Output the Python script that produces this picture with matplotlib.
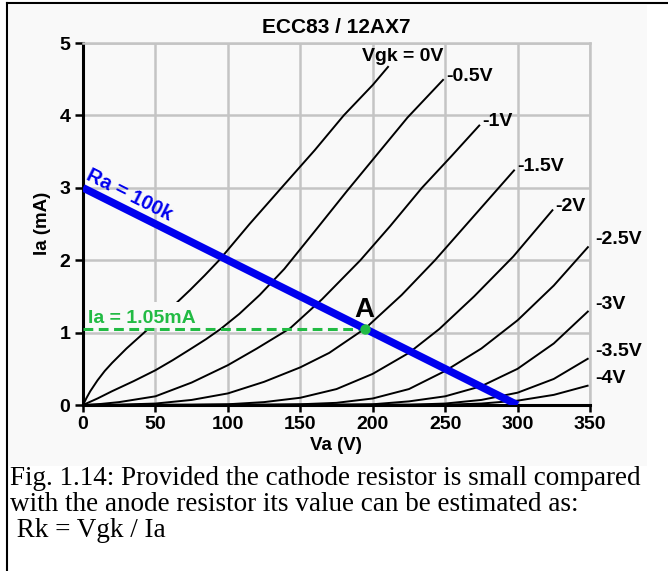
import matplotlib
matplotlib.use('Agg')
import numpy as np
import matplotlib.pyplot as plt
from matplotlib.lines import Line2D
from matplotlib.patches import Rectangle

plt.rcParams['font.family'] = ['Liberation Sans', 'DejaVu Sans']

# ECC83 anode characteristics (Va in V, Ia in mA)
va_0 = [0, 2.5, 5, 10, 15, 20, 30, 40, 45, 55, 64, 74, 84, 94, 115, 137, 160, 180, 200, 211]
ia_0 = [0, 0.10, 0.19, 0.34, 0.47, 0.58, 0.78, 0.96, 1.05, 1.23, 1.40, 1.59, 1.79, 2.0, 2.5, 3.0, 3.52, 4.0, 4.42, 4.68]
va_05 = [0, 10, 20, 35, 50, 62, 74, 85, 95, 108, 122, 139, 160, 182, 203, 224, 249]
ia_05 = [0, 0.09, 0.19, 0.33, 0.48, 0.62, 0.77, 0.91, 1.05, 1.26, 1.52, 1.88, 2.40, 2.95, 3.46, 3.97, 4.50]
va_1 = [0, 12.5, 25, 50, 75, 100, 120, 143, 165, 191.5, 212, 234, 254, 274]
ia_1 = [0, 0.015, 0.04, 0.12, 0.31, 0.55, 0.78, 1.06, 1.46, 2.0, 2.47, 3.0, 3.43, 3.87]
va_15 = [0, 25, 50, 75, 100, 125, 150, 170, 195, 220, 243, 265, 287, 298]
ia_15 = [0, 0.005, 0.02, 0.07, 0.16, 0.32, 0.52, 0.72, 1.06, 1.52, 2.0, 2.5, 3.0, 3.25]
va_2 = [0, 75, 100, 125, 150, 175, 200, 225, 246, 270, 297, 324.5]
ia_2 = [0, 0.003, 0.01, 0.04, 0.10, 0.22, 0.43, 0.72, 1.05, 1.5, 2.05, 2.70]
va_25 = [0, 125, 150, 175, 200, 225, 250, 275, 300, 325, 349]
ia_25 = [0, 0.003, 0.01, 0.03, 0.09, 0.22, 0.47, 0.78, 1.17, 1.65, 2.19]
va_3 = [0, 175, 200, 225, 250, 275, 300, 325, 349]
ia_3 = [0, 0.003, 0.01, 0.05, 0.12, 0.26, 0.50, 0.85, 1.30]
va_35 = [0, 225, 250, 275, 300, 325, 349]
ia_35 = [0, 0.004, 0.02, 0.07, 0.17, 0.36, 0.645]
va_4 = [0, 250, 275, 300, 325, 349]
ia_4 = [0, 0.004, 0.02, 0.06, 0.14, 0.27]

grid_labels = ['Vgk = 0V', '-0.5V', '-1V', '-1.5V', '-2V', '-2.5V', '-3V', '-3.5V', '-4V']

# load line Ra = 100k from a 300V supply, and operating point A
va_load = [0, 300]
ia_load = [3, 0]
va_A = 195
ia_A = 1.05

xticks = [0, 50, 100, 150, 200, 250, 300, 350]
yticks = [0, 1, 2, 3, 4, 5]

curves = [(va_0, ia_0), (va_05, ia_05), (va_1, ia_1), (va_15, ia_15), (va_2, ia_2),
          (va_25, ia_25), (va_3, ia_3), (va_35, ia_35), (va_4, ia_4)]

W, H = 668, 571
bg = '#f9f9f9'
gridc = '#c4c4c4'
green = '#22bb44'
blue = '#0000ee'

fig = plt.figure(figsize=(W / 100, H / 100), dpi=100)
fig.patch.set_facecolor('white')
# light panel behind the chart and the frame around it
fig.add_artist(Rectangle((9 / W, 1 - 466 / H), 638 / W, 461 / H, transform=fig.transFigure,
                         facecolor=bg, edgecolor='none', zorder=0))
fig.add_artist(Line2D([7 / W, 7 / W], [0, 1 - 3 / H], color='black', lw=1.5, transform=fig.transFigure))
fig.add_artist(Line2D([7 / W, 1], [1 - 3 / H, 1 - 3 / H], color='black', lw=1.5, transform=fig.transFigure))

ax = fig.add_axes([83 / W, 1 - 405 / H, 507 / W, 362 / H])
ax.set_facecolor(bg)
ax.set_xlim(0, 350)
ax.set_ylim(0, 5)
ax.set_axisbelow(True)
ax.grid(True, color=gridc, lw=1.8)
ax.set_xticks(xticks)
ax.set_yticks(yticks)
for lab in ax.get_xticklabels() + ax.get_yticklabels():
    lab.set_fontweight('bold')
ax.tick_params(axis='x', direction='out', length=5, width=1.8, labelsize=14, pad=3)
ax.tick_params(axis='y', direction='out', length=6, width=1.8, labelsize=14, pad=3)
for s in ['top', 'right']:
    ax.spines[s].set_color(gridc)
    ax.spines[s].set_linewidth(1.8)
for s in ['left', 'bottom']:
    ax.spines[s].set_linewidth(2.2)

for va, ia in curves:
    ax.plot(va, ia, color='black', lw=1.4, zorder=2, clip_on=False, solid_capstyle='butt')

# curve labels
lab_fs = 14
for k, (va, ia) in enumerate(curves):
    if k == 0:
        ax.text(va[-1] + 10, ia[-1] + 0.14, grid_labels[k], ha='center', va='center',
                fontsize=lab_fs, fontweight='bold')
    elif k <= 4:
        ax.text(va[-1] + 1.5, ia[-1] + 0.04, grid_labels[k], ha='left', va='center',
                fontsize=lab_fs, fontweight='bold')
    else:
        ax.text(353.5, ia[-1] + 0.09, grid_labels[k], ha='left', va='center',
                fontsize=lab_fs, fontweight='bold', clip_on=False)

# load line
ax.plot(va_load, ia_load, color=blue, lw=5.5, zorder=5, solid_capstyle='butt')
ang = np.degrees(np.arctan2(ia_load[1] - ia_load[0], va_load[1] - va_load[0]))
ax.text(32, 2.9, 'Ra = 100k', color=blue, fontsize=14.5, fontweight='bold',
        rotation=ang, transform_rotates_text=True, rotation_mode='anchor',
        ha='center', va='center', zorder=6)

# Ia at the operating point
ax.add_patch(Rectangle((2, ia_A + 0.01), 76, 0.36, facecolor=bg, edgecolor='none', zorder=3))
ax.hlines(ia_A, 0, va_A, colors=green, lw=2.2, linestyles=(0, (3.2, 1.8)), zorder=4)
ax.text(3.5, 1.13, 'Ia = 1.05mA', color=green, fontsize=14, fontweight='bold',
        ha='left', va='baseline', zorder=4)
ax.plot([va_A], [ia_A], 'o', color=green, ms=6.5, zorder=7)
ax.text(va_A - 1, 1.22, 'A', fontsize=20, fontweight='bold', ha='center', va='baseline', zorder=7)

ax.set_title('ECC83 / 12AX7', fontsize=15, fontweight='bold', pad=7)
fig.text(42.5 / W, 1 - 223 / H, 'Ia (mA)', rotation=90, ha='center', va='center',
         fontsize=13.5, fontweight='bold')
fig.text(336 / W, 1 - 446 / H, 'Va (V)', ha='center', va='center', fontsize=13.5, fontweight='bold')

cap = ['Fig. 1.14: Provided the cathode resistor is small compared',
       'with the anode resistor its value can be estimated as:',
       ' Rk = Vgk / Ia']
for i, line in enumerate(cap):
    fig.text(10 / W, 1 - (485 + 26 * i) / H, line, ha='left', va='baseline',
             fontsize=19.5, family='Liberation Serif')

plt.savefig('out.png', dpi=100)
